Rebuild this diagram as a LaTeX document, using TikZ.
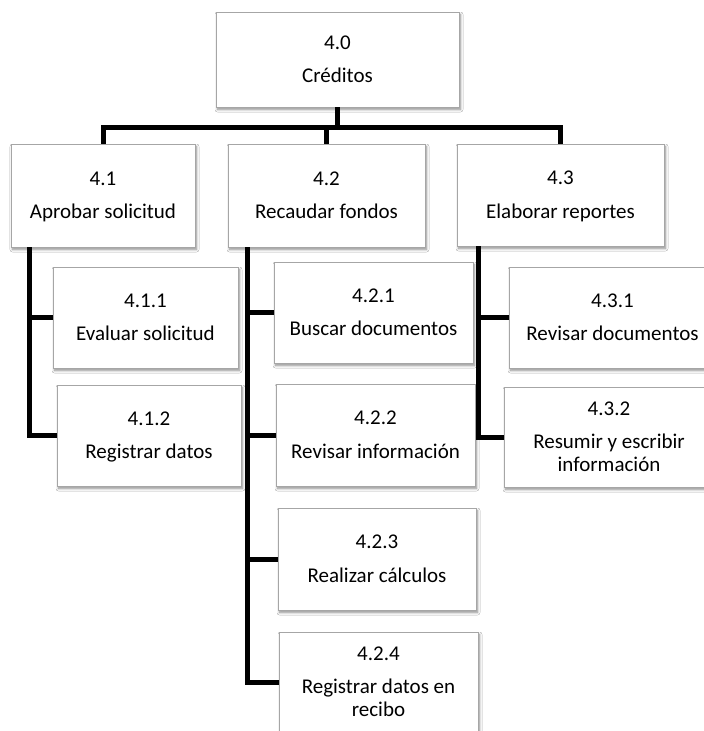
\documentclass[tikz,border=0pt]{standalone}
\usepackage{fontspec}
\setmainfont{Carlito}
\usetikzlibrary{shadows.blur}

\definecolor{boxedge}{HTML}{A6A6A6}

\tikzset{
  wbs/.style={
    draw=boxedge, line width=0.8pt, fill=white,
    inner sep=0pt, align=center,
    font=\fontsize{21}{24}\selectfont,
    blur shadow={shadow xshift=1.5pt, shadow yshift=-2.5pt,
      shadow blur steps=6, shadow opacity=45, shadow blur radius=2.5pt}
  },
  link/.style={line width=5pt, black, line join=miter}
}

% fixed line height so every label sits on the same baselines
\newcommand{\ls}{\rule[-4pt]{0pt}{21pt}}
% label: code, gap, title
\newcommand{\wbslabel}[2]{\ls#1\\[9.5pt]\ls#2}

\begin{document}
\begin{tikzpicture}[x=1pt, y=-1pt]
  \path[use as bounding box, clip] (0,0) rectangle (704,731);
  \fill[white] (0,0) rectangle (704,731);

  % level 0 and level 1
  \node[wbs, minimum width=243pt, minimum height=95pt]  (n40) at (337.5,59.5) {\wbslabel{4.0}{Créditos}};
  \node[wbs, minimum width=184pt, minimum height=103pt] (n41) at (103,195.5)  {\wbslabel{4.1}{Aprobar solicitud}};
  \node[wbs, minimum width=197pt, minimum height=103pt] (n42) at (326.5,195.5) {\wbslabel{4.2}{Recaudar fondos}};
  \node[wbs, minimum width=207pt, minimum height=102pt] (n43) at (560.5,195) {\wbslabel{4.3}{Elaborar reportes}};

  % level 2 under 4.1
  \node[wbs, minimum width=185pt, minimum height=101pt] (n411) at (145.5,317.5) {\wbslabel{4.1.1}{Evaluar solicitud}};
  \node[wbs, minimum width=184pt, minimum height=101pt] (n412) at (149,435.5)  {\wbslabel{4.1.2}{Registrar datos}};

  % level 2 under 4.2
  \node[wbs, minimum width=199pt, minimum height=101pt] (n421) at (373.5,312.5) {\wbslabel{4.2.1}{Buscar documentos}};
  \node[wbs, minimum width=199pt, minimum height=102pt] (n422) at (375.5,435)   {\wbslabel{4.2.2}{Revisar información}};
  \node[wbs, minimum width=198pt, minimum height=102pt] (n423) at (377,559)     {\wbslabel{4.2.3}{Realizar cálculos}};
  \node[wbs, minimum width=199pt, minimum height=100pt] (n424) at (378.5,682)   {\wbslabel{4.2.4}{Registrar datos en\\[-1pt]\ls recibo}};

  % level 2 under 4.3
  \node[wbs, minimum width=207pt, minimum height=101pt] (n431) at (612.5,317.5) {\wbslabel{4.3.1}{Revisar documentos}};
  \node[wbs, minimum width=210pt, minimum height=100pt] (n432) at (609,437)     {\wbslabel{4.3.2}{Resumir y escribir\\[-1pt]\ls información}};

  % bus under the root
  \coordinate (bus) at (0,127);
  \draw[link] (n40.south) -- (n40.south |- bus) -| (n41.north);
  \draw[link] (n40.south) -- (n40.south |- bus) -| (n42.north);
  \draw[link] (n40.south) -- (n40.south |- bus) -| (n43.north);

  % side rails to the work packages
  \draw[link] ([xshift=19pt]n41.south west) |- (n411.west);
  \draw[link] ([xshift=19pt]n41.south west) |- (n412.west);

  \draw[link] ([xshift=20pt]n42.south west) |- (n421.west);
  \draw[link] ([xshift=20pt]n42.south west) |- (n422.west);
  \draw[link] ([xshift=20pt]n42.south west) |- (n423.west);
  \draw[link] ([xshift=20pt]n42.south west) |- (n424.west);

  \draw[link] ([xshift=22pt]n43.south west) |- (n431.west);
  \draw[link] ([xshift=22pt]n43.south west) |- (n432.west);
\end{tikzpicture}
\end{document}
